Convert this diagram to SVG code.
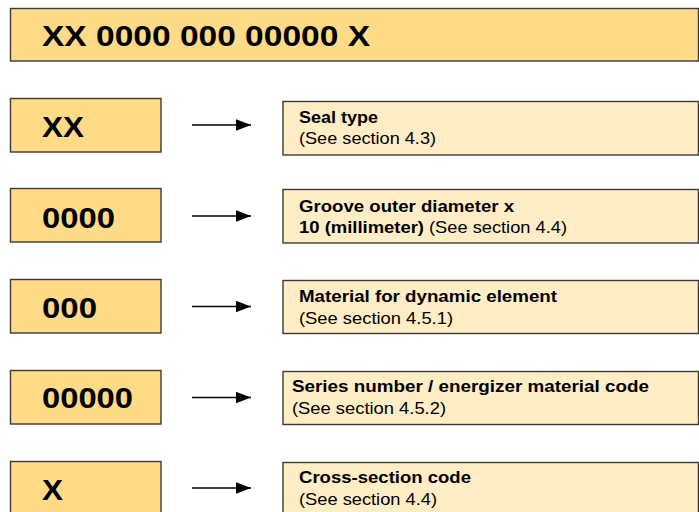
<svg xmlns="http://www.w3.org/2000/svg" width="699" height="512" viewBox="0 0 699 512">
<defs>
<style>
.code{fill:#FFDA87;stroke:#3c3a36;stroke-width:1.4}
.desc{fill:#FFEDC6;stroke:#3c3a36;stroke-width:1.4}
.big{font-family:"Liberation Sans",Arial,sans-serif;font-weight:bold;font-size:30px;fill:#000}
.b{font-family:"Liberation Sans",Arial,sans-serif;font-weight:bold;font-size:16.5px;fill:#000}
.r{font-family:"Liberation Sans",Arial,sans-serif;font-size:16.5px;fill:#000}
.conn{stroke:#000;stroke-width:1.4;fill:none}
</style>
<marker id="ah" markerWidth="16" markerHeight="12" refX="15" refY="6" orient="auto" markerUnits="userSpaceOnUse">
<path d="M0,0.3 L15,6 L0,11.7 Z" fill="#000"/>
</marker>
</defs>
<rect width="699" height="512" fill="#fff"/>

<g id="title">
<rect class="code" x="10.5" y="8.5" width="688" height="52.5"/>
<text class="big" x="42" y="46" textLength="328" lengthAdjust="spacingAndGlyphs">XX 0000 000 00000 X</text>
</g>

<g id="code-xx">
<rect class="code" x="10.5" y="98.5" width="150.5" height="53.5"/>
<text class="big" x="42" y="137" textLength="42" lengthAdjust="spacingAndGlyphs">XX</text>
</g>
<g id="desc-seal">
<rect class="desc" x="283" y="101.5" width="415.5" height="53.5"/>
<text class="b" x="299" y="122.5" textLength="79" lengthAdjust="spacingAndGlyphs">Seal type</text>
<text class="r" x="299" y="144" textLength="137" lengthAdjust="spacingAndGlyphs">(See section 4.3)</text>
</g>

<g id="code-0000">
<rect class="code" x="10.5" y="188.5" width="150.5" height="53.5"/>
<text class="big" x="42" y="227.5" textLength="73" lengthAdjust="spacingAndGlyphs">0000</text>
</g>
<g id="desc-groove">
<rect class="desc" x="283" y="189.5" width="415.5" height="53.5"/>
<text class="b" x="299" y="211.5" textLength="215" lengthAdjust="spacingAndGlyphs">Groove outer diameter x</text>
<text class="b" x="299" y="233" textLength="125" lengthAdjust="spacingAndGlyphs">10 (millimeter)</text>
<text class="r" x="429" y="233" textLength="138" lengthAdjust="spacingAndGlyphs">(See section 4.4)</text>
</g>

<g id="code-000">
<rect class="code" x="10.5" y="279.5" width="150.5" height="53.5"/>
<text class="big" x="42" y="318" textLength="55" lengthAdjust="spacingAndGlyphs">000</text>
</g>
<g id="desc-material">
<rect class="desc" x="283" y="280.5" width="415.5" height="53"/>
<text class="b" x="299" y="302" textLength="258" lengthAdjust="spacingAndGlyphs">Material for dynamic element</text>
<text class="r" x="299" y="324" textLength="154" lengthAdjust="spacingAndGlyphs">(See section 4.5.1)</text>
</g>

<g id="code-00000">
<rect class="code" x="10.5" y="370.5" width="150.5" height="53.5"/>
<text class="big" x="42" y="408" textLength="91" lengthAdjust="spacingAndGlyphs">00000</text>
</g>
<g id="desc-series">
<rect class="desc" x="283" y="371.5" width="415.5" height="53"/>
<text class="b" x="292" y="392" textLength="357" lengthAdjust="spacingAndGlyphs">Series number / energizer material code</text>
<text class="r" x="292" y="414" textLength="154" lengthAdjust="spacingAndGlyphs">(See section 4.5.2)</text>
</g>

<g id="code-x">
<rect class="code" x="10.5" y="461.5" width="150.5" height="53.5"/>
<text class="big" x="42" y="500" textLength="21" lengthAdjust="spacingAndGlyphs">X</text>
</g>
<g id="desc-cross">
<rect class="desc" x="283" y="462.5" width="415.5" height="53"/>
<text class="b" x="299" y="482.5" textLength="172" lengthAdjust="spacingAndGlyphs">Cross-section code</text>
<text class="r" x="299" y="504.5" textLength="138" lengthAdjust="spacingAndGlyphs">(See section 4.4)</text>
</g>

<g id="connectors">
<line class="conn" x1="192" y1="125" x2="251" y2="125" marker-end="url(#ah)"/>
<line class="conn" x1="192" y1="216" x2="251" y2="216" marker-end="url(#ah)"/>
<line class="conn" x1="192" y1="306.5" x2="251" y2="306.5" marker-end="url(#ah)"/>
<line class="conn" x1="192" y1="397.5" x2="251" y2="397.5" marker-end="url(#ah)"/>
<line class="conn" x1="192" y1="488" x2="251" y2="488" marker-end="url(#ah)"/>
</g>
</svg>
